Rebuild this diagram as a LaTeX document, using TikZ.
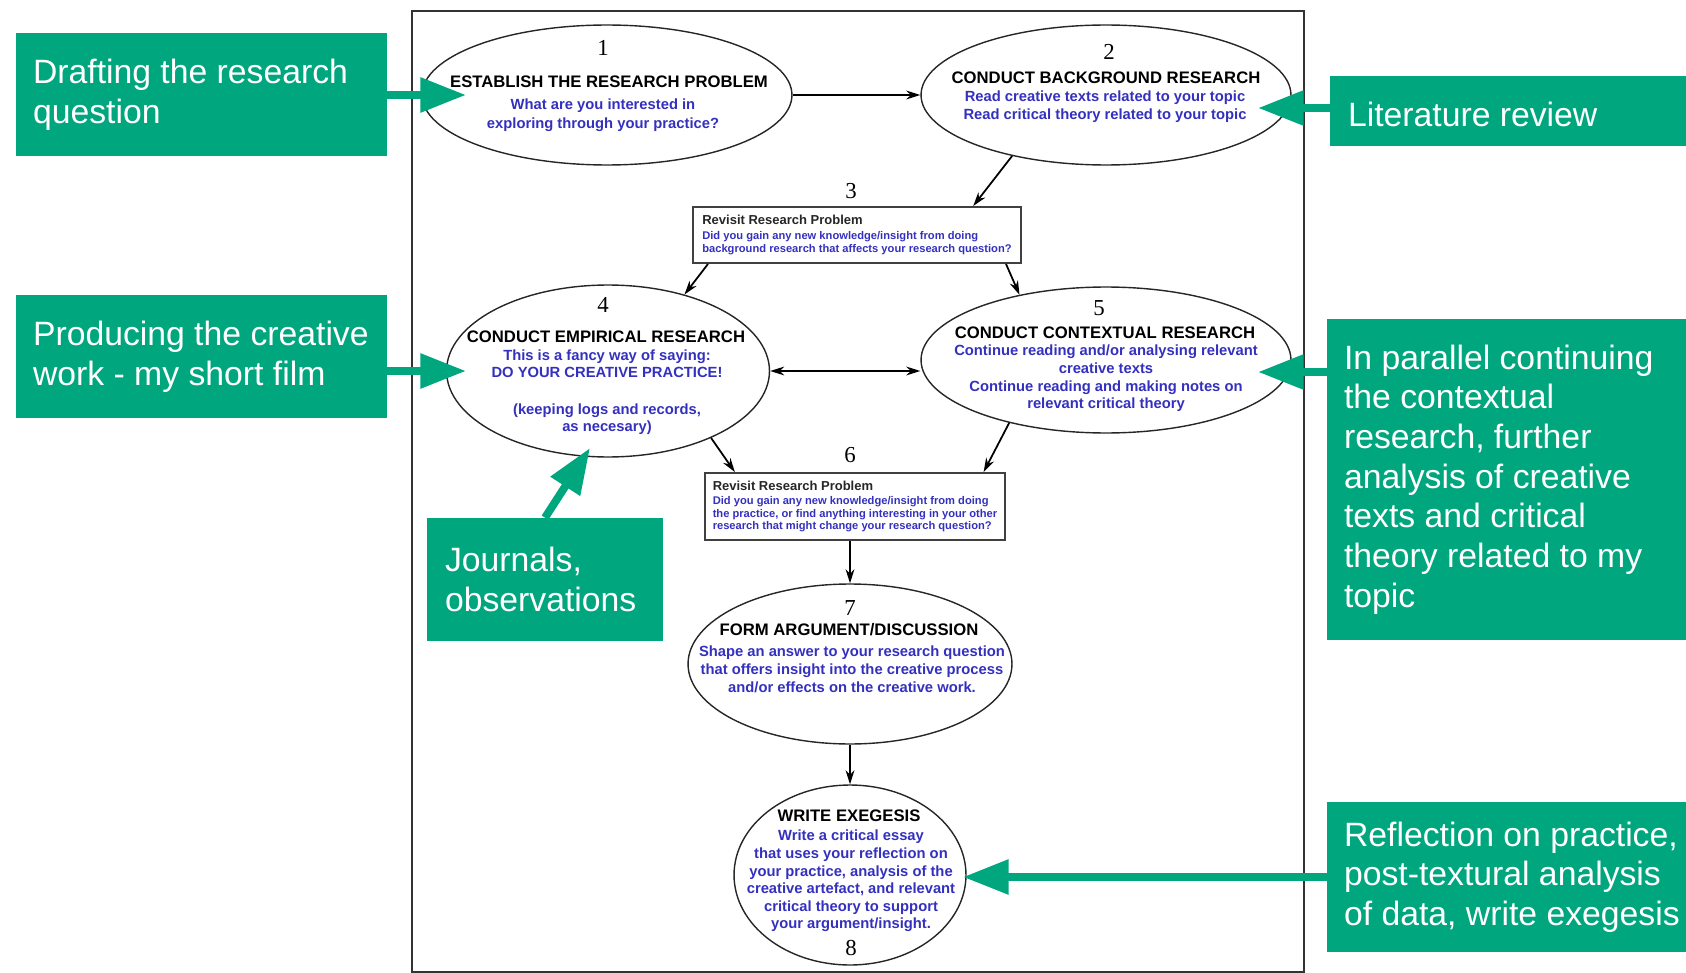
\documentclass[tikz,border=0pt]{standalone}
\usepackage{fontspec}
\setmainfont{Liberation Sans}
\newfontfamily\stagenumfont{Liberation Serif}
\usetikzlibrary{arrows.meta,shapes.geometric}

\definecolor{notegreen}{RGB}{0,166,126}
\definecolor{askblue}{RGB}{52,48,190}

\tikzset{
  stage/.style={ellipse, draw=black!85, line width=0.8pt, inner sep=0pt},
  revisit/.style={rectangle, draw=black!75, line width=1.1pt, inner sep=0pt,
    align=left, text=askblue, font=\bfseries\fontsize{6.35}{7.2}\selectfont},
  stagenum/.style={font=\stagenumfont\fontsize{13}{15}\selectfont},
  heading/.style={font=\bfseries\fontsize{9.5}{11}\selectfont},
  ask/.style={text=askblue, align=center, font=\bfseries\fontsize{8.4}{10.2}\selectfont},
  note/.style={rectangle, fill=notegreen, inner sep=0pt},
  notetext/.style={text=white, align=left, anchor=west, inner sep=0pt,
    font=\fontsize{19.2}{22.6}\selectfont},
  flow/.style={-{Stealth[length=8pt,width=5pt]}, line width=1pt},
  flowboth/.style={{Stealth[length=8pt,width=5pt]}-{Stealth[length=8pt,width=5pt]}, line width=1pt},
  pointer/.style={-{Triangle[length=26pt,width=19pt]}, line width=4.5pt, draw=notegreen},
}

\begin{document}
\begin{tikzpicture}[x=0.02cm, y=-0.02cm]
\useasboundingbox (0,0) rectangle (1686,973);
\draw[line width=1.1pt, black!80] (412,11) rectangle (1304,972);

% stages
\node[stage, minimum width=7.4cm, minimum height=2.8cm] (e1) at (607,95) {};
\node[stage, minimum width=7.4cm, minimum height=2.8cm] (e2) at (1106,95) {};
\node[stage, minimum width=6.46cm, minimum height=3.44cm] (e4) at (608,371) {};
\node[stage, minimum width=7.4cm, minimum height=2.92cm] (e5) at (1106,360) {};
\node[stage, minimum width=6.48cm, minimum height=3.2cm] (e7) at (850,664) {};
\node[stage, minimum width=4.64cm, minimum height=3.6cm] (e8) at (850,875) {};

\node[revisit, minimum width=6.56cm, minimum height=1.12cm] (b3) at (857,235)
  {{\color{black!85}\fontsize{7.4}{8}\selectfont Revisit Research Problem}\\[1.6pt]
   Did you gain any new knowledge/insight from doing\\
   background research that affects your research question?};
\node[revisit, minimum width=6cm, minimum height=1.34cm] (b6) at (855,506.5)
  {{\color{black!85}\fontsize{7.4}{8}\selectfont Revisit Research Problem}\\[1.1pt]
   Did you gain any new knowledge/insight from doing\\
   the practice, or find anything interesting in your other\\
   research that might change your research question?};

% numbers
\node[stagenum] (n1) at (603,48) {1};
\node[stagenum] (n2) at (1109,52) {2};
\node[stagenum] (n3) at (851,191) {3};
\node[stagenum] (n4) at (603,305) {4};
\node[stagenum] (n5) at (1099,308) {5};
\node[stagenum] (n6) at (850,455) {6};
\node[stagenum] (n7) at (850,608) {7};
\node[stagenum] (n8) at (851,948) {8};

% headings and descriptions
\node[heading] (h1) at (609,82) {ESTABLISH THE RESEARCH PROBLEM};
\node[ask, font=\bfseries\fontsize{8.4}{10.8}\selectfont] (d1) at (603,115.5)
  {What are you interested in\\exploring through your practice?};
\node[heading] (h2) at (1106,78) {CONDUCT BACKGROUND RESEARCH};
\node[ask] (d2) at (1105,107)
  {Read creative texts related to your topic\\Read critical theory related to your topic};
\node[heading] (h4) at (606,337) {CONDUCT EMPIRICAL RESEARCH};
\node[ask, font=\bfseries\fontsize{8.4}{9.7}\selectfont] (d4) at (607,392)
  {This is a fancy way of saying:\\DO YOUR CREATIVE PRACTICE!\\[11pt]
   (keeping logs and records,\\as necesary)};
\node[heading] (h5) at (1105,333) {CONDUCT CONTEXTUAL RESEARCH};
\node[ask, font=\bfseries\fontsize{8.4}{10}\selectfont] (d5) at (1106,378.5)
  {Continue reading and/or analysing relevant\\creative texts\\
   Continue reading and making notes on\\relevant critical theory};
\node[heading] (h7) at (849,630) {FORM ARGUMENT/DISCUSSION};
\node[ask] (d7) at (852,669)
  {Shape an answer to your research question\\that offers insight into the creative process\\
   and/or effects on the creative work.};
\node[heading] (h8) at (849,816) {WRITE EXEGESIS};
\node[ask, font=\bfseries\fontsize{8.4}{10}\selectfont] (d8) at (851,881)
  {Write a critical essay\\that uses your reflection on\\your practice, analysis of the\\
   creative artefact, and relevant\\critical theory to support\\your argument/insight.};

% flow between stages
\draw[flow] (e1) -- (e2);
\draw[flow] (e2.213) -- (b3.14);
\draw[flow] (b3.191) -- (e4.45);
\draw[flow] (b3.349) -- (e5.143);
\draw[flowboth] (e4.east) -- (e4.east -| e5.west);
\draw[flow] (e4.327) -- (b6.164);
\draw[flow] (e5.213) -- (b6.15);
\draw[flow] (b6.south -| e7.north) -- (e7.north);
\draw[flow] (e7) -- (e8);

% notes
\node[note, minimum width=7.42cm, minimum height=2.46cm] (boxA) at (201.5,94.5) {};
\node[notetext] (tA) at ([xshift=0.34cm]boxA.west) {Drafting the research\\question};
\node[note, minimum width=7.12cm, minimum height=1.4cm] (boxB) at (1508,111) {};
\node[notetext] (tB) at ([xshift=0.36cm, yshift=-0.06cm]boxB.west) {Literature review};
\node[note, minimum width=7.42cm, minimum height=2.46cm] (boxC) at (201.5,356.5) {};
\node[notetext] (tC) at ([xshift=0.34cm]boxC.west) {Producing the creative\\work - my short film};
\node[note, minimum width=4.72cm, minimum height=2.46cm] (boxD) at (545,579.5) {};
\node[notetext] (tD) at ([xshift=0.36cm]boxD.west) {Journals,\\observations};
\node[note, minimum width=7.18cm, minimum height=6.42cm] (boxE) at (1506.5,479.5) {};
\node[notetext] (tE) at ([xshift=0.34cm]boxE.west) {In parallel continuing\\the contextual\\research, further\\analysis of creative\\texts and critical\\theory related to my\\topic};
\node[note, minimum width=7.18cm, minimum height=3cm] (boxF) at (1506.5,877) {};
\node[notetext] (tF) at ([xshift=0.34cm]boxF.west) {Reflection on practice,\\post-textural analysis\\of data, write exegesis};

\coordinate (pA) at (466,95);
\coordinate (pB) at (1258,108);
\coordinate (pC) at (466,371);
\coordinate (pD) at (590,448);
\coordinate (pE) at (1258,372);
\coordinate (pF) at (963,877);
\draw[pointer] (boxA.east |- pA) -- (pA);
\draw[pointer] (boxB.west |- pB) -- (pB);
\draw[pointer] (boxC.east |- pC) -- (pC);
\draw[pointer] (boxD.north) -- (pD);
\draw[pointer] (boxE.west |- pE) -- (pE);
\draw[pointer] (boxF.west |- pF) -- (pF);
\end{tikzpicture}
\end{document}
